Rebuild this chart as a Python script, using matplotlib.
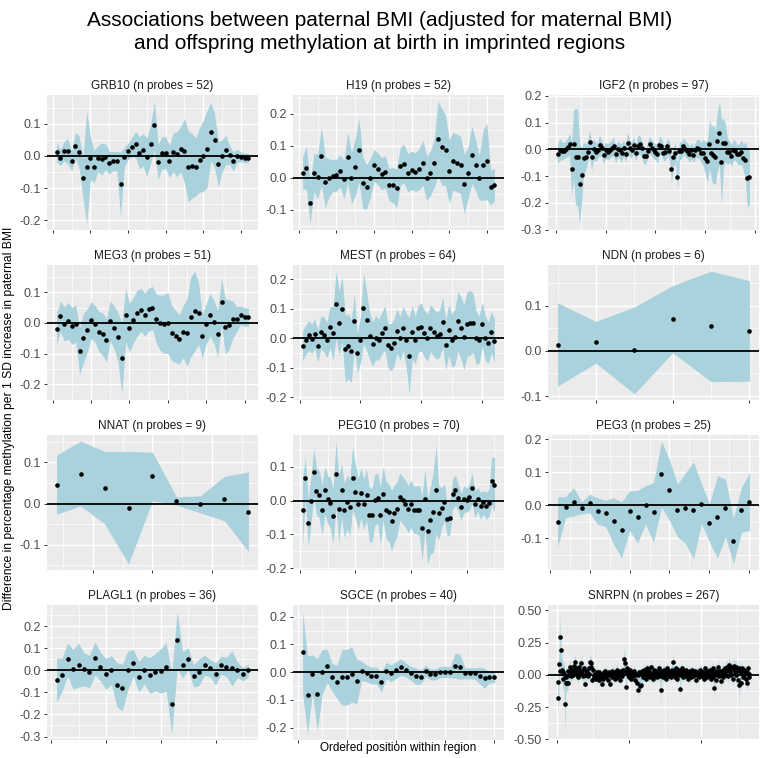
import matplotlib.pyplot as plt
from matplotlib.ticker import MultipleLocator, AutoMinorLocator, FormatStrFormatter

plt.rcParams['font.family'] = ['Liberation Sans', 'DejaVu Sans']

# estimates (difference in % methylation) and half-width of the 95% CI, per probe
grb10_est = [0.013, -0.005, 0.015, 0.014, -0.016, 0.032, 0.012, -0.068, -0.036, -0.008,
             -0.033, -0.008, -0.010, -0.003, -0.022, -0.016, -0.016, -0.088, -0.004, 0.014,
             0.027, 0.036, 0.010, 0.019, -0.004, 0.038, 0.095, -0.019, 0.010, 0.010,
             -0.017, 0.011, 0.005, 0.021, 0.016, -0.033, -0.031, -0.034, -0.013, 0.000,
             0.021, 0.075, 0.048, -0.025, 0.000, 0.018, 0.003, -0.017, 0.001, -0.003,
             -0.006, -0.006]
grb10_ci = [0.030, 0.025, 0.030, 0.040, 0.030, 0.040, 0.050, 0.060, 0.175, 0.065,
            0.050, 0.040, 0.050, 0.040, 0.035, 0.030, 0.030, 0.100, 0.030, 0.025,
            0.030, 0.040, 0.050, 0.050, 0.060, 0.060, 0.075, 0.055, 0.050, 0.050,
            0.050, 0.060, 0.070, 0.070, 0.100, 0.110, 0.100, 0.090, 0.100, 0.110,
            0.120, 0.090, 0.085, 0.070, 0.050, 0.045, 0.030, 0.030, 0.020, 0.015,
            0.015, 0.015]

h19_est = [0.016, 0.031, -0.078, 0.016, 0.004, 0.067, -0.014, 0.000, 0.007, 0.009,
           0.022, -0.005, 0.064, 0.000, 0.034, 0.086, -0.016, -0.028, 0.000, 0.039,
           0.029, 0.013, 0.019, -0.021, -0.023, -0.033, 0.037, 0.044, 0.016, 0.023,
           0.018, 0.028, 0.047, -0.002, 0.015, 0.045, 0.123, 0.097, 0.086, 0.020,
           0.052, 0.047, 0.040, -0.019, 0.016, 0.072, 0.039, 0.000, 0.040, 0.052,
           -0.030, -0.022]
h19_ci = [0.050, 0.067, 0.066, 0.060, 0.070, 0.090, 0.080, 0.060, 0.050, 0.050,
          0.050, 0.060, 0.080, 0.080, 0.090, 0.100, 0.080, 0.070, 0.060, 0.050,
          0.050, 0.050, 0.050, 0.050, 0.055, 0.060, 0.060, 0.060, 0.060, 0.060,
          0.060, 0.065, 0.070, 0.070, 0.070, 0.075, 0.117, 0.120, 0.110, 0.100,
          0.090, 0.090, 0.090, 0.093, 0.080, 0.090, 0.080, 0.070, 0.110, 0.120,
          0.055, 0.050]

igf2_est = [-0.019, -0.001, -0.005, -0.005, 0.000, 0.009, 0.019, -0.074, 0.019, -0.029,
            -0.027, -0.128, -0.097, -0.032, -0.030, -0.010, 0.028, -0.028, 0.001, -0.011,
            -0.004, 0.015, 0.004, -0.020, -0.004, -0.009, -0.004, 0.004, 0.011, -0.019,
            0.001, -0.004, -0.014, 0.006, -0.017, 0.024, 0.004, -0.003, 0.017, -0.013,
            0.014, 0.019, 0.004, -0.023, -0.025, -0.005, 0.019, 0.006, -0.004, -0.009,
            -0.017, 0.015, 0.011, -0.013, -0.011, 0.011, -0.005, -0.075, -0.029, -0.013,
            -0.103, -0.005, -0.005, 0.013, 0.000, -0.005, -0.019, -0.004, -0.020, -0.001,
            0.004, 0.000, -0.013, -0.013, -0.032, -0.044, 0.020, -0.014, -0.020, -0.029,
            0.032, 0.060, -0.046, 0.024, 0.024, -0.008, -0.008, -0.024, -0.001, -0.006,
            -0.019, -0.018, -0.010, -0.032, -0.039, -0.108, -0.103]
igf2_ci = [0.035, 0.040, 0.035, 0.030, 0.030, 0.035, 0.040, 0.100, 0.130, 0.180,
           0.180, 0.150, 0.100, 0.060, 0.050, 0.040, 0.045, 0.050, 0.040, 0.035,
           0.030, 0.040, 0.030, 0.035, 0.030, 0.030, 0.030, 0.030, 0.035, 0.030,
           0.030, 0.030, 0.035, 0.030, 0.030, 0.040, 0.030, 0.030, 0.030, 0.030,
           0.035, 0.035, 0.030, 0.030, 0.030, 0.030, 0.030, 0.030, 0.030, 0.030,
           0.035, 0.035, 0.030, 0.030, 0.030, 0.030, 0.035, 0.050, 0.040, 0.035,
           0.045, 0.035, 0.030, 0.030, 0.030, 0.030, 0.030, 0.030, 0.030, 0.030,
           0.035, 0.035, 0.040, 0.050, 0.060, 0.080, 0.090, 0.100, 0.110, 0.100,
           0.110, 0.120, 0.160, 0.090, 0.070, 0.050, 0.040, 0.040, 0.040, 0.035,
           0.035, 0.040, 0.045, 0.050, 0.070, 0.110, 0.100]

meg3_est = [-0.019, 0.022, -0.003, 0.007, -0.009, -0.002, -0.092, -0.049, -0.024, 0.009,
            -0.002, -0.028, -0.036, -0.057, 0.007, -0.015, -0.045, -0.115, 0.026, -0.015,
            0.009, 0.032, 0.043, 0.027, 0.044, 0.049, 0.014, 0.001, -0.004, 0.001,
            -0.033, -0.044, -0.053, -0.028, -0.031, 0.020, 0.039, 0.031, -0.044, -0.002,
            0.026, 0.004, -0.035, 0.069, -0.012, -0.005, 0.012, 0.013, 0.025, 0.019,
            0.019]
meg3_ci = [0.050, 0.050, 0.055, 0.060, 0.060, 0.060, 0.075, 0.080, 0.070, 0.060,
           0.060, 0.065, 0.070, 0.070, 0.065, 0.070, 0.080, 0.116, 0.086, 0.080,
           0.075, 0.075, 0.070, 0.070, 0.070, 0.070, 0.080, 0.090, 0.095, 0.100,
           0.090, 0.085, 0.080, 0.085, 0.110, 0.130, 0.130, 0.100, 0.070, 0.065,
           0.070, 0.070, 0.075, 0.075, 0.090, 0.080, 0.060, 0.040, 0.030, 0.030,
           0.030]

mest_est = [-0.027, -0.006, 0.009, -0.002, 0.015, -0.027, 0.020, 0.012, -0.006, 0.037,
            0.016, 0.114, 0.050, 0.099, -0.038, -0.027, -0.045, 0.059, -0.052, -0.005,
            0.101, 0.060, 0.007, -0.020, 0.001, -0.005, 0.016, 0.035, -0.024, -0.032,
            -0.015, 0.024, -0.001, 0.033, -0.005, -0.059, 0.020, -0.007, 0.033, 0.037,
            0.016, 0.001, 0.034, 0.020, 0.008, 0.015, 0.053, -0.023, 0.028, -0.008,
            0.003, 0.058, 0.034, 0.003, 0.047, 0.052, 0.052, 0.001, -0.005, 0.047,
            0.000, -0.016, 0.020, -0.009]
mest_ci = [0.050, 0.050, 0.050, 0.050, 0.050, 0.055, 0.055, 0.060, 0.060, 0.070,
           0.090, 0.113, 0.110, 0.110, 0.113, 0.110, 0.106, 0.090, 0.065, 0.080,
           0.120, 0.100, 0.080, 0.075, 0.075, 0.070, 0.070, 0.075, 0.075, 0.080,
           0.080, 0.075, 0.075, 0.075, 0.090, 0.130, 0.090, 0.080, 0.080, 0.080,
           0.080, 0.080, 0.080, 0.080, 0.080, 0.080, 0.085, 0.085, 0.085, 0.090,
           0.095, 0.100, 0.105, 0.110, 0.110, 0.110, 0.100, 0.090, 0.080, 0.075,
           0.075, 0.070, 0.070, 0.073]

ndn_est = [0.014, 0.019, 0.001, 0.070, 0.054, 0.044]
ndn_ci = [0.092, 0.046, 0.096, 0.074, 0.122, 0.111]

nnat_est = [0.046, 0.073, 0.039, -0.010, 0.066, 0.006, -0.002, 0.012, -0.020]
nnat_ci = [0.072, 0.079, 0.088, 0.137, 0.059, 0.010, 0.021, 0.054, 0.097]

peg10_est = [-0.029, 0.067, -0.065, 0.000, 0.085, 0.028, 0.018, -0.027, 0.030, 0.004,
             -0.006, -0.045, 0.079, -0.025, 0.030, -0.029, -0.004, -0.020, 0.067, 0.027,
             -0.010, 0.023, -0.011, 0.017, -0.041, -0.043, 0.003, 0.007, -0.043, 0.021,
             -0.028, -0.035, -0.059, -0.038, -0.024, 0.012, 0.002, -0.010, -0.024, -0.010,
             -0.027, -0.028, -0.028, -0.081, 0.004, -0.090, -0.058, -0.034, 0.032, -0.036,
             -0.022, -0.005, -0.055, -0.050, 0.020, 0.030, 0.009, -0.018, 0.004, 0.002,
             0.012, 0.037, -0.011, 0.004, -0.015, -0.005, -0.015, -0.008, 0.059, 0.047]
peg10_ci = [0.100, 0.060, 0.070, 0.070, 0.070, 0.070, 0.070, 0.075, 0.070, 0.070,
            0.075, 0.080, 0.097, 0.100, 0.080, 0.080, 0.080, 0.085, 0.094, 0.080,
            0.075, 0.075, 0.075, 0.075, 0.080, 0.080, 0.075, 0.075, 0.085, 0.080,
            0.085, 0.085, 0.090, 0.085, 0.080, 0.070, 0.070, 0.070, 0.070, 0.070,
            0.070, 0.070, 0.075, 0.096, 0.090, 0.097, 0.100, 0.120, 0.130, 0.080,
            0.060, 0.055, 0.050, 0.050, 0.045, 0.045, 0.040, 0.040, 0.040, 0.035,
            0.040, 0.045, 0.040, 0.035, 0.040, 0.035, 0.040, 0.040, 0.070, 0.080]

peg3_est = [-0.050, -0.005, 0.011, -0.007, 0.006, -0.017, -0.024, -0.047, -0.074, -0.016,
            -0.034, 0.002, -0.021, 0.095, 0.046, -0.015, -0.008, -0.015, 0.005, -0.053,
            -0.035, -0.007, -0.107, -0.013, 0.011]
peg3_ci = [0.076, 0.032, 0.043, 0.018, 0.028, 0.040, 0.040, 0.070, 0.085, 0.060,
           0.080, 0.058, 0.090, 0.100, 0.092, 0.080, 0.107, 0.147, 0.060, 0.058,
           0.125, 0.087, 0.070, 0.068, 0.087]

plagl1_est = [-0.046, -0.020, 0.049, 0.005, 0.023, 0.005, -0.006, 0.054, 0.017, -0.017,
              0.002, -0.065, -0.078, 0.000, 0.034, -0.029, 0.003, -0.023, -0.009, -0.003,
              0.015, -0.152, 0.138, 0.025, 0.052, -0.026, -0.009, 0.023, 0.009, -0.017,
              0.023, 0.015, 0.009, 0.002, -0.018, 0.000]
plagl1_ci = [0.100, 0.075, 0.075, 0.090, 0.100, 0.075, 0.073, 0.075, 0.065, 0.070,
             0.065, 0.100, 0.105, 0.088, 0.060, 0.070, 0.065, 0.080, 0.085, 0.100,
             0.110, 0.136, 0.130, 0.060, 0.050, 0.050, 0.060, 0.045, 0.040, 0.050,
             0.040, 0.045, 0.080, 0.035, 0.030, 0.030]

sgce_est = [0.072, -0.082, -0.007, -0.080, 0.002, 0.022, -0.018, -0.035, -0.018, -0.018,
            -0.008, -0.033, 0.005, -0.004, -0.012, -0.012, -0.035, 0.006, -0.004, 0.008,
            0.019, 0.008, -0.004, -0.014, -0.018, 0.005, -0.008, -0.008, 0.001, 0.001,
            0.000, 0.024, 0.020, -0.004, -0.004, -0.004, -0.012, -0.022, -0.018, -0.017]
sgce_ci = [0.148, 0.140, 0.070, 0.130, 0.080, 0.060, 0.050, 0.060, 0.100, 0.100,
           0.100, 0.080, 0.035, 0.030, 0.030, 0.030, 0.035, 0.030, 0.030, 0.030,
           0.030, 0.025, 0.025, 0.030, 0.025, 0.020, 0.020, 0.020, 0.020, 0.020,
           0.020, 0.045, 0.045, 0.020, 0.020, 0.020, 0.030, 0.036, 0.020, 0.020]

snrpn_est = [-0.055, -0.183, 0.082, 0.294, 0.030, 0.190, 0.035, 0.020, -0.033, 0.010, -0.223, -0.065, -0.020, -0.060, -0.065,
             0.030, 0.000, 0.063, 0.020, -0.010, 0.040, 0.000, 0.030, 0.070, 0.100, 0.020, 0.050, 0.000, -0.020, 0.040,
             0.060, 0.010, 0.020, 0.090, 0.030, -0.010, 0.050, 0.000, -0.073, 0.000, 0.030, 0.020, -0.010, 0.050, 0.010,
             0.100, 0.060, 0.090, -0.040, 0.035, 0.000, -0.020, 0.010, -0.030, 0.020, -0.010, 0.000, -0.040, 0.020, -0.020,
             0.010, -0.075, 0.000, -0.030, 0.020, -0.010, 0.030, -0.020, 0.000, 0.010, -0.040, 0.020, 0.000, -0.070, 0.010,
             -0.020, 0.030, 0.000, -0.010, 0.020, -0.030, 0.010, 0.040, 0.000, -0.020, 0.020, 0.000, -0.040, 0.030, 0.010,
             -0.010, 0.040, 0.125, 0.020, 0.090, -0.095, 0.050, 0.000, 0.030, -0.020, 0.010, 0.040, -0.030, 0.000, 0.020,
             -0.010, 0.030, 0.000, -0.040, 0.010, -0.060, 0.000, -0.115, 0.020, -0.090, 0.010, -0.080, 0.030, -0.020, 0.000,
             0.040, 0.010, -0.030, 0.020, 0.050, 0.000, -0.010, 0.030, -0.020, 0.010, 0.060, 0.000, -0.030, 0.020, 0.040,
             -0.010, 0.010, 0.030, -0.020, 0.000, 0.050, 0.020, -0.010, -0.115, 0.030, 0.000, -0.020, 0.040, 0.010, 0.000,
             -0.030, 0.020, 0.050, 0.000, -0.010, 0.030, 0.010, -0.020, 0.040, 0.020, 0.100, 0.000, 0.030, -0.020, 0.050,
             0.010, -0.030, 0.020, 0.000, 0.040, -0.110, 0.020, 0.050, 0.000, -0.020, 0.030, 0.010, -0.010, 0.040, 0.000,
             0.020, -0.030, 0.010, 0.030, 0.000, -0.020, 0.040, 0.010, -0.010, 0.020, 0.000, 0.030, -0.040, 0.010, 0.020,
             0.000, -0.020, 0.040, 0.010, 0.030, -0.010, 0.000, 0.020, -0.030, 0.050, 0.000, 0.020, -0.020, 0.030, 0.010,
             -0.010, 0.040, 0.000, -0.030, 0.020, 0.050, -0.020, -0.100, 0.010, 0.030, -0.040, 0.000, 0.020, 0.063, -0.010,
             0.030, 0.000, -0.050, 0.020, 0.040, -0.020, 0.010, 0.050, 0.000, 0.030, 0.060, -0.010, 0.040, 0.080, 0.020,
             0.050, 0.000, 0.060, -0.030, 0.040, 0.070, 0.020, 0.060, 0.000, 0.030, -0.040, 0.050, -0.080, 0.030, -0.060,
             0.020, 0.050, -0.020, 0.040, 0.000, 0.030, -0.030, 0.020, -0.065, 0.050, 0.010, -0.020]
snrpn_ci = [0.080, 0.120, 0.120, 0.200, 0.100, 0.150, 0.100, 0.090, 0.100, 0.100, 0.235, 0.120, 0.080, 0.070, 0.070,
            0.060, 0.060, 0.070, 0.050, 0.050, 0.060, 0.050, 0.050, 0.060, 0.070, 0.050, 0.060, 0.050, 0.050, 0.060,
            0.060, 0.050, 0.050, 0.070, 0.050, 0.050, 0.060, 0.050, 0.060, 0.050, 0.050, 0.050, 0.050, 0.060, 0.050,
            0.070, 0.060, 0.070, 0.060, 0.050, 0.050, 0.050, 0.040, 0.050, 0.040, 0.040, 0.050, 0.050, 0.040, 0.040,
            0.040, 0.050, 0.040, 0.040, 0.040, 0.040, 0.050, 0.040, 0.040, 0.040, 0.050, 0.040, 0.040, 0.050, 0.040,
            0.040, 0.050, 0.040, 0.040, 0.040, 0.050, 0.040, 0.050, 0.040, 0.040, 0.040, 0.040, 0.050, 0.050, 0.040,
            0.040, 0.060, 0.090, 0.060, 0.070, 0.080, 0.060, 0.050, 0.050, 0.040, 0.040, 0.050, 0.040, 0.040, 0.040,
            0.040, 0.050, 0.040, 0.050, 0.040, 0.060, 0.050, 0.090, 0.050, 0.070, 0.050, 0.060, 0.050, 0.040, 0.040,
            0.050, 0.040, 0.040, 0.040, 0.050, 0.040, 0.040, 0.050, 0.040, 0.040, 0.060, 0.040, 0.050, 0.040, 0.050,
            0.040, 0.040, 0.050, 0.040, 0.040, 0.060, 0.050, 0.060, 0.110, 0.050, 0.040, 0.040, 0.050, 0.040, 0.040,
            0.050, 0.040, 0.050, 0.040, 0.040, 0.050, 0.040, 0.040, 0.050, 0.050, 0.080, 0.040, 0.050, 0.040, 0.050,
            0.040, 0.050, 0.040, 0.040, 0.050, 0.080, 0.050, 0.050, 0.040, 0.040, 0.050, 0.040, 0.040, 0.050, 0.040,
            0.040, 0.050, 0.040, 0.050, 0.040, 0.040, 0.050, 0.040, 0.040, 0.040, 0.040, 0.050, 0.050, 0.040, 0.040,
            0.040, 0.040, 0.050, 0.040, 0.050, 0.040, 0.040, 0.040, 0.050, 0.060, 0.040, 0.040, 0.040, 0.050, 0.040,
            0.040, 0.050, 0.040, 0.050, 0.040, 0.060, 0.050, 0.070, 0.040, 0.050, 0.060, 0.040, 0.050, 0.060, 0.040,
            0.050, 0.040, 0.060, 0.050, 0.060, 0.050, 0.050, 0.060, 0.050, 0.060, 0.070, 0.050, 0.060, 0.070, 0.060,
            0.060, 0.050, 0.070, 0.060, 0.060, 0.070, 0.060, 0.070, 0.050, 0.060, 0.080, 0.070, 0.140, 0.060, 0.080,
            0.050, 0.060, 0.050, 0.050, 0.040, 0.050, 0.060, 0.050, 0.080, 0.060, 0.050, 0.040]

genes = ["GRB10", "H19", "IGF2", "MEG3", "MEST", "NDN",
         "NNAT", "PEG10", "PEG3", "PLAGL1", "SGCE", "SNRPN"]
estimates = [grb10_est, h19_est, igf2_est, meg3_est, mest_est, ndn_est,
             nnat_est, peg10_est, peg3_est, plagl1_est, sgce_est, snrpn_est]
half_widths = [grb10_ci, h19_ci, igf2_ci, meg3_ci, mest_ci, ndn_ci,
               nnat_ci, peg10_ci, peg3_ci, plagl1_ci, sgce_ci, snrpn_ci]
x_steps = [10, 10, 25, 10, 20, 2, 2.5, 20, 5, 10, 10, 100]
y_steps = [0.1] * 11 + [0.25]

W, H = 760, 758
fig = plt.figure(figsize=(W / 100, H / 100), dpi=100)

col_left = [47, 293, 548]
row_top = [95, 265, 435, 605]
pw, ph = 211, 135

ribbon_col = '#a9d2dc'
for k, gene in enumerate(genes):
    r, c = divmod(k, 3)
    ax = fig.add_axes([col_left[c] / W, 1 - (row_top[r] + ph) / H, pw / W, ph / H])
    est = estimates[k]
    hw = half_widths[k]
    x = list(range(1, len(est) + 1))
    lo = [e - h for e, h in zip(est, hw)]
    hi = [e + h for e, h in zip(est, hw)]

    ax.set_facecolor('#ebebeb')
    ax.fill_between(x, lo, hi, color=ribbon_col, lw=0, zorder=2)
    ax.axhline(0, color='black', lw=1.3, zorder=3)
    ax.scatter(x, est, s=11, color='black', lw=0, zorder=4)
    ax.margins(x=0.05, y=0.05)

    ax.xaxis.set_major_locator(MultipleLocator(x_steps[k]))
    ax.xaxis.set_minor_locator(AutoMinorLocator(2))
    ax.yaxis.set_major_locator(MultipleLocator(y_steps[k]))
    ax.yaxis.set_minor_locator(AutoMinorLocator(2))
    fmt = '%.1f' if y_steps[k] == 0.1 else '%.2f'
    ax.yaxis.set_major_formatter(FormatStrFormatter(fmt))
    ax.set_xticklabels([])
    ax.grid(which='major', color='white', lw=1.0, zorder=0)
    ax.grid(which='minor', color='white', lw=0.5, zorder=0)
    ax.set_axisbelow(True)
    for sp in ax.spines.values():
        sp.set_visible(False)
    ax.tick_params(which='major', length=2.5, width=0.7, color='#333333',
                   labelsize=9, labelcolor='#4d4d4d', pad=2)
    ax.tick_params(which='minor', length=0)
    ax.set_title(f"{gene} (n probes = {len(est)})", fontsize=8.5,
                 color='#1a1a1a', pad=4)

fig.text(0.5, 1 - 32 / H, "Associations between paternal BMI (adjusted for maternal BMI)\n"
         "and offspring methylation at birth in imprinted regions",
         ha='center', va='center', fontsize=15, linespacing=1.3)
fig.text(398 / W, 1 - 748 / H, "Ordered position within region",
         ha='center', va='center', fontsize=8.5)
fig.text(9 / W, 1 - 418 / H,
         "Difference in percentage methylation per 1 SD increase in paternal BMI",
         ha='center', va='center', rotation=90, fontsize=8.7)

fig.savefig('out.png', dpi=100)
